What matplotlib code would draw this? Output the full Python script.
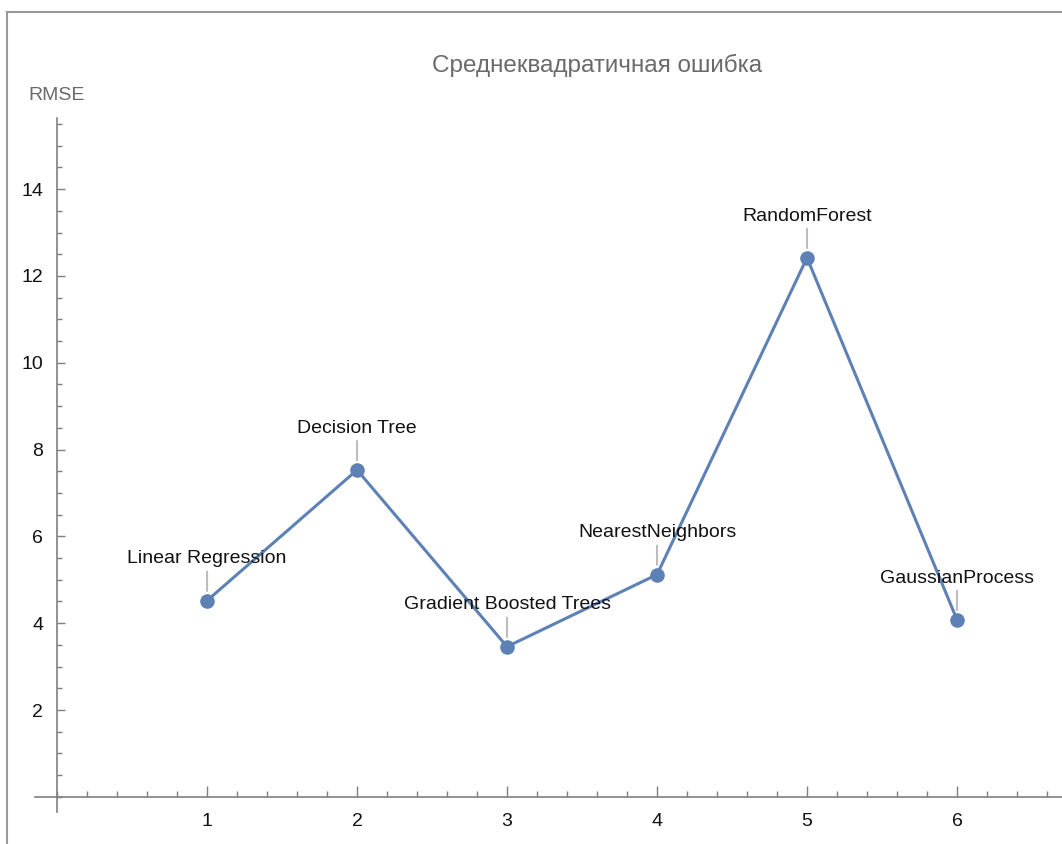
import numpy as np
import matplotlib
matplotlib.use("Agg")
import matplotlib.pyplot as plt
from matplotlib.ticker import MultipleLocator, FixedLocator
from matplotlib.patches import Rectangle

plt.rcParams["font.family"] = ["Liberation Sans", "DejaVu Sans"]

# data
models = ["Linear Regression", "Decision Tree", "Gradient Boosted Trees",
          "NearestNeighbors", "RandomForest", "GaussianProcess"]
model_idx = [1, 2, 3, 4, 5, 6]
rmse = [4.52, 7.53, 3.46, 5.12, 12.42, 4.08]
xticks = [1, 2, 3, 4, 5, 6]
yticks = [2, 4, 6, 8, 10, 12, 14]

line_col = "#5E81B5"
axis_col = "#7f7f7f"

fig = plt.figure(figsize=(10.62, 8.44), dpi=100)

# cell frame of the notebook screenshot
fig.patches.append(Rectangle((7 / 1062, -0.1), 1.2, 1.1 - 12 / 844,
                             transform=fig.transFigure, fill=False,
                             edgecolor="#999999", linewidth=1.5))

ax = fig.add_axes([35 / 1062, 1 - 812 / 844, 1 - 35 / 1062, (812 - 118) / 844])
ax.set_xlim(-0.147, 6.7)
ax.set_ylim(-0.35, 15.64)

ax.plot(model_idx, rmse, color=line_col, lw=2.2, marker="o", ms=10.5,
        markeredgewidth=0, zorder=3)

for x, y, name in zip(model_idx, rmse, models):
    ax.annotate(name, xy=(x, y), xytext=(0, 30), textcoords="offset points",
                ha="center", va="center", fontsize=14, color="#111111",
                arrowprops=dict(arrowstyle="-", color="#bdbdbd", lw=1.5,
                                shrinkA=1, shrinkB=7))

for s in ["top", "right"]:
    ax.spines[s].set_visible(False)
for s in ["left", "bottom"]:
    ax.spines[s].set_position(("data", 0))
    ax.spines[s].set_color(axis_col)
    ax.spines[s].set_linewidth(1.2)

ax.xaxis.set_major_locator(FixedLocator(xticks))
ax.yaxis.set_major_locator(FixedLocator(yticks))
ax.xaxis.set_minor_locator(MultipleLocator(0.2))
ax.yaxis.set_minor_locator(MultipleLocator(0.5))
ax.tick_params(axis="x", which="major", direction="in", length=8, width=1,
               color=axis_col, labelsize=14, labelcolor="#111111", pad=12)
ax.tick_params(axis="x", which="minor", direction="in", length=4.5, width=1,
               color=axis_col)
ax.tick_params(axis="y", which="major", direction="in", length=6, width=1,
               color=axis_col, labelsize=14, labelcolor="#111111", pad=10)
ax.tick_params(axis="y", which="minor", direction="in", length=3.5, width=1,
               color=axis_col)
ax.patch.set_alpha(0)

fig.text(597 / 1062, 1 - 65 / 844, "Среднеквадратичная ошибка", ha="center",
         va="center", fontsize=17.5, color="#6a6a6a")
fig.text(28 / 1062, 1 - 96 / 844, "RMSE", ha="left", va="center",
         fontsize=14, color="#6a6a6a")

fig.savefig("out.png", dpi=100)
